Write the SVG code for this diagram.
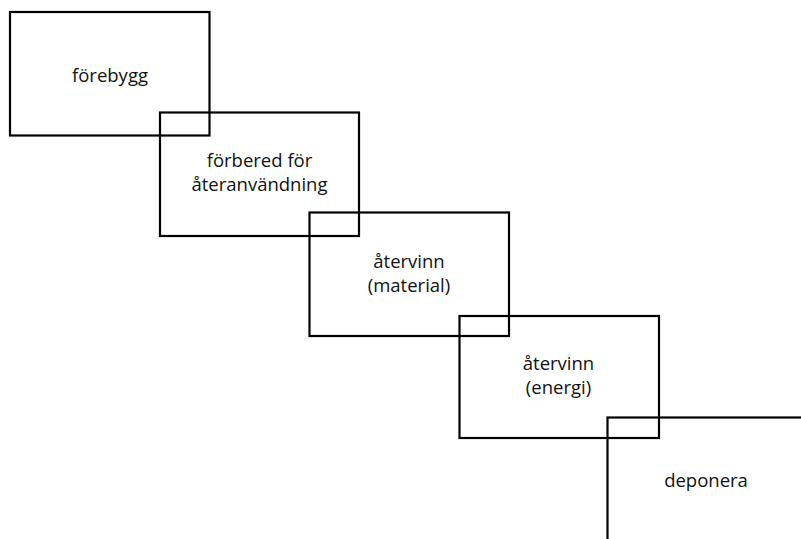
<svg xmlns="http://www.w3.org/2000/svg" width="801" height="539" viewBox="0 0 801 539">
<style>
rect{fill:none;stroke:#000;stroke-width:2.2}
text{font-family:"Open Sans","Noto Sans",sans-serif;font-size:18.5px;fill:#111;text-anchor:middle}
</style>
<rect x="0" y="0" width="801" height="539" style="fill:#fff;stroke:none"/>
<g id="n1"><rect x="10" y="12" width="199.5" height="123.5"/><text x="110" y="82">förebygg</text></g>
<g id="n2"><rect x="160" y="112.5" width="199" height="123.5"/><text x="259.5" y="167">förbered för</text><text x="259.5" y="191">återanvändning</text></g>
<g id="n3"><rect x="309.5" y="212.5" width="199.5" height="123.5"/><text x="409" y="268">återvinn</text><text x="409" y="292">(material)</text></g>
<g id="n4"><rect x="459.5" y="316" width="199.5" height="122"/><text x="558.5" y="370">återvinn</text><text x="558.5" y="394">(energi)</text></g>
<g id="n5"><rect x="607.5" y="417.5" width="220" height="150"/><text x="706" y="487">deponera</text></g>
<g id="connectors"></g>
</svg>
